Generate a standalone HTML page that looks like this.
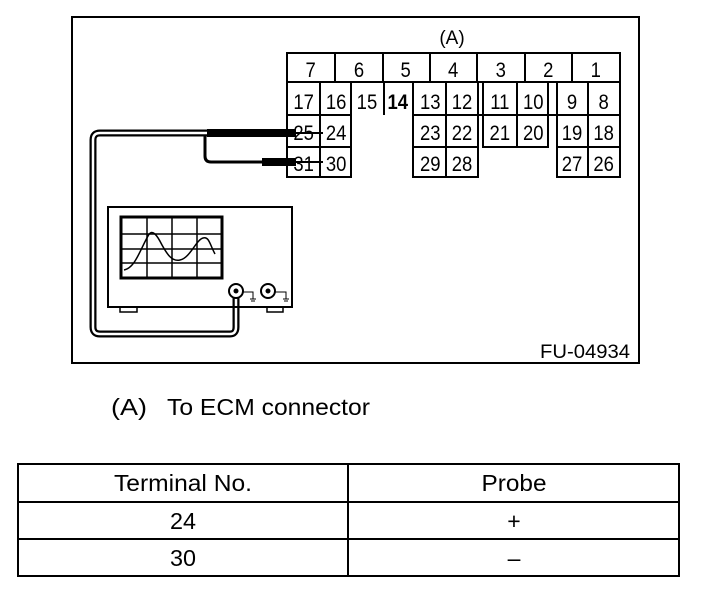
<!DOCTYPE html>
<html><head><style>body{margin:0;background:#fff}svg{display:block}text{font-family:"Liberation Sans",Arial,sans-serif}</style></head><body>
<svg width="704" height="590" viewBox="0 0 704 590" xmlns="http://www.w3.org/2000/svg">
<rect x="72" y="17" width="567" height="346" fill="none" stroke="#000" stroke-width="2"/>
<text x="452" y="44" font-size="19" text-anchor="middle">(A)</text>
<g fill="none" stroke="#000" stroke-width="2">
<rect x="287" y="53" width="333" height="29"/>
<path d="M335 53V82M383 53V82M430 53V82M477 53V82M525 53V82M572 53V82"/>
<path d="M287 82V177H351V82M320 82V177M287 115H351M287 147H351M351 82V115M384 82V115M413 82V177H478V82M446 82V177M413 115H478M413 147H478M478 82V115H483M483 82V147H548V82M517 82V147M483 115H548M548 82V115H557M557 82V177H620V82M588 82V177M557 115H620M557 147H620"/>
</g>
<g font-size="21" text-anchor="middle" transform="scale(0.88,1)">
<g transform="translate(0,0)">
<text x="353" y="77">7</text><text x="408" y="77">6</text><text x="461" y="77">5</text><text x="515" y="77">4</text><text x="569" y="77">3</text><text x="623" y="77">2</text><text x="677" y="77">1</text>
<text x="345" y="109">17</text><text x="382" y="109">16</text><text x="417" y="109">15</text><text x="452" y="109" font-weight="bold">14</text><text x="489" y="109">13</text><text x="525" y="109">12</text><text x="568" y="109">11</text><text x="606" y="109">10</text><text x="650" y="109">9</text><text x="686" y="109">8</text>
<text x="345" y="140">25</text><text x="382" y="140">24</text><text x="489" y="140">23</text><text x="525" y="140">22</text><text x="568" y="140">21</text><text x="606" y="140">20</text><text x="650" y="140">19</text><text x="686" y="140">18</text>
<text x="345" y="171">31</text><text x="382" y="171">30</text><text x="489" y="171">29</text><text x="525" y="171">28</text><text x="650" y="171">27</text><text x="686" y="171">26</text>
</g></g>
<rect x="207" y="129" width="89" height="8" fill="#000"/>
<line x1="296" y1="133" x2="323" y2="133" stroke="#000" stroke-width="2"/>
<path d="M205 135V156Q205 162 211 162H262" fill="none" stroke="#000" stroke-width="3"/>
<rect x="262" y="158" width="34" height="8" fill="#000"/>
<line x1="296" y1="162" x2="323" y2="162" stroke="#000" stroke-width="2"/>
<path d="M207 133H100Q93 133 93 140V327Q93 334 100 334H230Q236 334 236 327V291" fill="none" stroke="#000" stroke-width="7"/>
<path d="M207 133H100Q93 133 93 140V327Q93 334 100 334H230Q236 334 236 327V291" fill="none" stroke="#fff" stroke-width="2.5"/>
<rect x="108" y="207" width="184" height="100" fill="none" stroke="#000" stroke-width="2"/>
<rect x="121" y="217" width="101" height="61" fill="none" stroke="#000" stroke-width="3"/>
<path d="M147 217V278M172 217V278M197 217V278M121 234H222M121 249H222M121 263H222" stroke="#000" stroke-width="1.5"/>
<path d="M124 270C135 268 140 250 148 236C152 228 157 235 162 245C167 254 172 262 180 260C190 258 196 240 203 238C209 236 210 245 215 254" fill="none" stroke="#000" stroke-width="1.5"/>
<rect x="120" y="307" width="17" height="5" fill="none" stroke="#000" stroke-width="1.5"/>
<rect x="267" y="307" width="16" height="5" fill="none" stroke="#000" stroke-width="1.5"/>
<circle cx="236" cy="291" r="7" fill="#fff" stroke="#000" stroke-width="2"/>
<circle cx="236" cy="291" r="2.5" fill="#000"/>
<circle cx="268" cy="291" r="7" fill="#fff" stroke="#000" stroke-width="2"/>
<circle cx="268" cy="291" r="2.5" fill="#000"/>
<path d="M243 292H253V299M250 299H256M251 301H255M275 292H286V299M283 299H289M284 301H288" fill="none" stroke="#000" stroke-width="1"/>
<text x="540" y="358" font-size="19" textLength="90" lengthAdjust="spacingAndGlyphs">FU-04934</text>
<text x="111" y="415" font-size="23" textLength="36" lengthAdjust="spacingAndGlyphs">(A)</text>
<text x="167" y="415" font-size="23" textLength="203" lengthAdjust="spacingAndGlyphs">To ECM connector</text>
<g fill="none" stroke="#000" stroke-width="2">
<rect x="18" y="464" width="661" height="112"/>
<path d="M348 464V576M18 502H679M18 539H679"/>
</g>
<g font-size="23" text-anchor="middle">
<text x="183" y="491" textLength="138" lengthAdjust="spacingAndGlyphs">Terminal No.</text><text x="514" y="491" textLength="65" lengthAdjust="spacingAndGlyphs">Probe</text>
<text x="183" y="529" textLength="26" lengthAdjust="spacingAndGlyphs">24</text><text x="514" y="529">+</text>
<text x="183" y="566" textLength="26" lengthAdjust="spacingAndGlyphs">30</text><text x="514" y="566">–</text>
</g>
</svg>
</body></html>
